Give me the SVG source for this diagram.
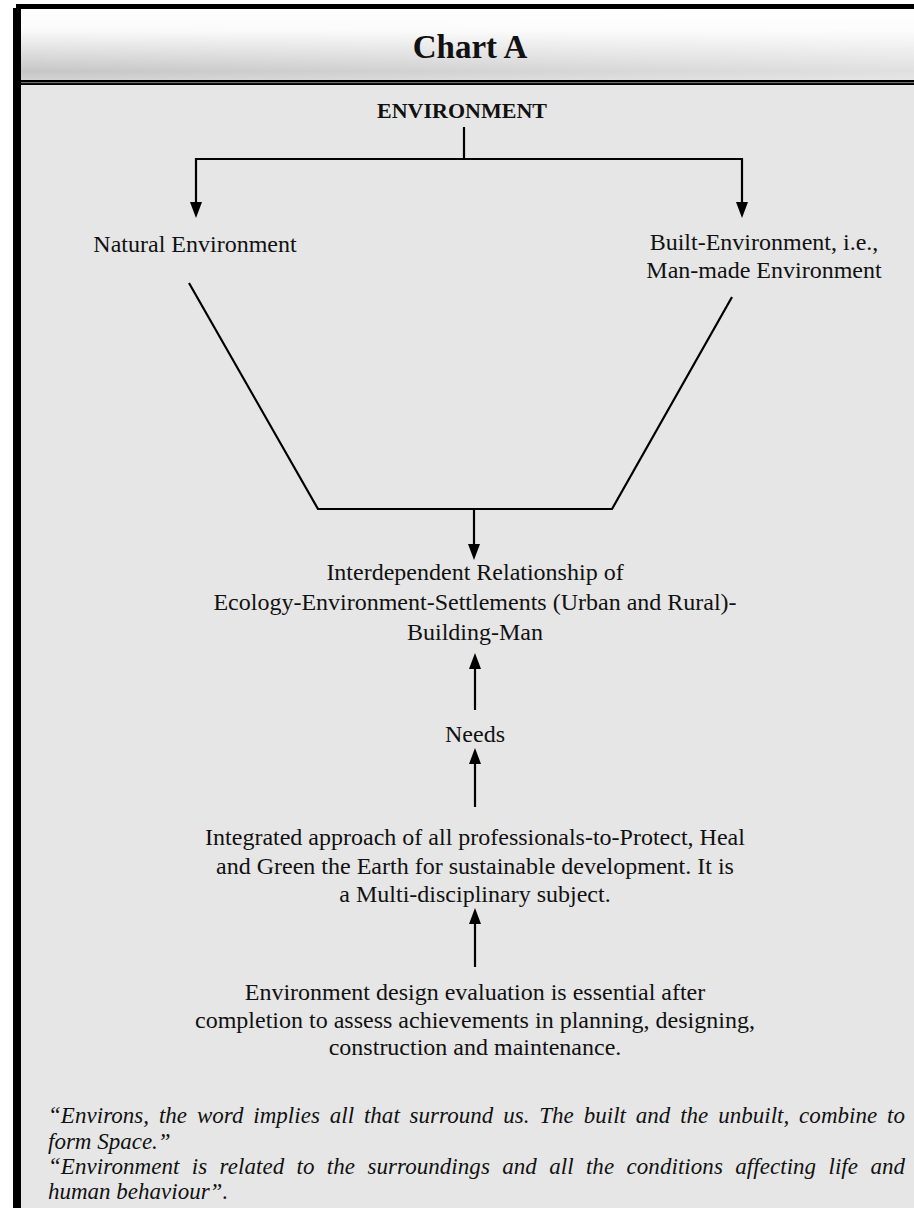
<svg xmlns="http://www.w3.org/2000/svg" width="914" height="1208" viewBox="0 0 914 1208">
  <defs>
    <!-- glossy title band: white top fading to grey -->
    <linearGradient id="bandV" x1="0" y1="0" x2="0" y2="1">
      <stop offset="0" stop-color="#ffffff"/>
      <stop offset="0.3" stop-color="#fafafa"/>
      <stop offset="0.88" stop-color="#c6c6c6"/>
      <stop offset="1" stop-color="#d2d2d2"/>
    </linearGradient>
    <linearGradient id="bandH" x1="0" y1="0" x2="1" y2="0">
      <stop offset="0" stop-color="#ffffff" stop-opacity="0"/>
      <stop offset="1" stop-color="#ffffff" stop-opacity="0.45"/>
    </linearGradient>
    <marker id="arrowhead" viewBox="0 0 16 12" refX="6" refY="6" markerWidth="16" markerHeight="12" markerUnits="userSpaceOnUse" orient="auto-start-reverse">
      <path d="M0,0 L16,6 L0,12 Z" fill="#000"/>
    </marker>
  </defs>
  <style>
    .lbl{font-family:"Liberation Serif","Times New Roman",serif;font-size:24px;fill:#111;text-anchor:middle}
    .head{font-family:"Liberation Serif","Times New Roman",serif;font-weight:bold;fill:#111;text-anchor:middle}
    .quote{font-family:"Liberation Serif","Times New Roman",serif;font-style:italic;font-size:23px;fill:#111}
    .wire{fill:none;stroke:#000;stroke-width:2.2}
  </style>

  <!-- page and panel -->
  <rect x="0" y="0" width="914" height="1208" fill="#ffffff"/>
  <rect x="21" y="85" width="893" height="1123" fill="#e6e6e6"/>

  <!-- title band -->
  <g id="title">
    <rect x="21" y="9" width="893" height="71" fill="url(#bandV)"/>
    <rect x="21" y="9" width="893" height="71" fill="url(#bandH)"/>
    <rect x="21" y="80" width="893" height="5" fill="#000"/>
    <rect x="21" y="82.2" width="893" height="0.9" fill="#8a8a8a"/>
    <text class="head" x="470" y="58" font-size="33">Chart A</text>
  </g>

  <!-- frame edges -->
  <rect x="16" y="4" width="898" height="5" fill="#000"/>
  <rect x="13" y="8" width="8" height="1200" fill="#000"/>

  <g id="connectors">
    <path class="wire" d="M464,127 V159"/>
    <path class="wire" d="M196,208 V159 H742 V208" marker-start="url(#arrowhead)" marker-end="url(#arrowhead)"/>
    <path class="wire" d="M189,283 L318,509 L612,509 L732,297"/>
    <path class="wire" d="M474,509 V550" marker-end="url(#arrowhead)"/>
    <path class="wire" d="M475,710 V663" marker-end="url(#arrowhead)"/>
    <path class="wire" d="M475,807 V758" marker-end="url(#arrowhead)"/>
    <path class="wire" d="M475,967 V918" marker-end="url(#arrowhead)"/>
  </g>

  <g id="node-environment">
    <text class="head" x="462" y="118" font-size="22">ENVIRONMENT</text>
  </g>

  <g id="node-natural">
    <text class="lbl" x="195" y="252">Natural Environment</text>
  </g>

  <g id="node-built">
    <text class="lbl" x="764" y="250">Built-Environment, i.e.,</text>
    <text class="lbl" x="764" y="278">Man-made Environment</text>
  </g>

  <g id="node-interdependent">
    <text class="lbl" x="475" y="580">Interdependent Relationship of</text>
    <text class="lbl" x="475" y="610">Ecology-Environment-Settlements (Urban and Rural)-</text>
    <text class="lbl" x="475" y="640">Building-Man</text>
  </g>

  <g id="node-needs">
    <text class="lbl" x="475" y="742">Needs</text>
  </g>

  <g id="node-integrated">
    <text class="lbl" x="475" y="845">Integrated approach of all professionals-to-Protect, Heal</text>
    <text class="lbl" x="475" y="874">and Green the Earth for sustainable development. It is</text>
    <text class="lbl" x="475" y="902">a Multi-disciplinary subject.</text>
  </g>

  <g id="node-evaluation">
    <text class="lbl" x="475" y="1000">Environment design evaluation is essential after</text>
    <text class="lbl" x="475" y="1028">completion to assess achievements in planning, designing,</text>
    <text class="lbl" x="475" y="1055">construction and maintenance.</text>
  </g>

  <!-- justified quotations: extra room goes into the word gaps -->
  <g id="quotes">
    <text class="quote" x="48" y="1123" word-spacing="4" textLength="857" lengthAdjust="spacing">“Environs, the word implies all that surround us. The built and the unbuilt, combine to</text>
    <text class="quote" x="48" y="1149">form Space.”</text>
    <text class="quote" x="48" y="1174" word-spacing="6.5" textLength="857" lengthAdjust="spacing">“Environment is related to the surroundings and all the conditions affecting life and</text>
    <text class="quote" x="48" y="1199">human behaviour”.</text>
  </g>
</svg>
